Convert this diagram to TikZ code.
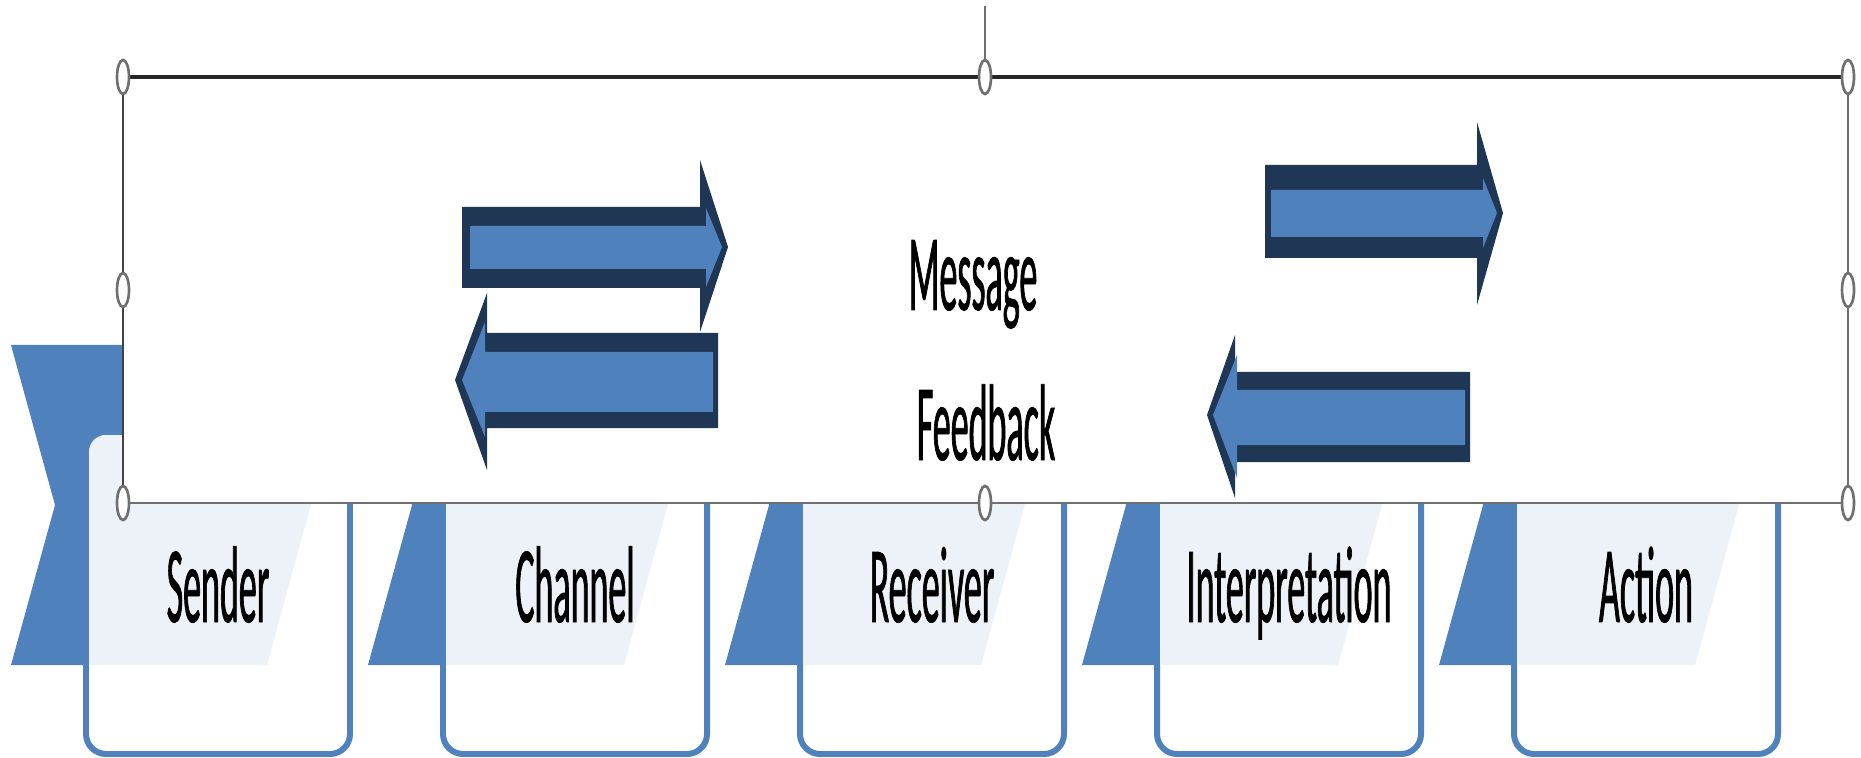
\documentclass[tikz,border=0pt]{standalone}
\usepackage{fontspec}
\newfontfamily\calib[FakeStretch=0.33, FakeBold=0.6]{Carlito}
\definecolor{chevblue}{HTML}{4F81BD}
\definecolor{bandblue}{HTML}{EDF2F9}
\definecolor{arrowdark}{HTML}{1F3654}
\definecolor{framegrey}{HTML}{6F6F6F}

\begin{document}
\begin{tikzpicture}[x=0.01cm, y=-0.01cm,
    chevron/.style={fill=chevblue},
    stepbox/.style={draw=chevblue, fill=white, line width=1.7pt,
        rounded corners=0.2cm},
    bandfill/.style={fill=bandblue},
    steptext/.style={font=\calib\fontsize{31}{31}\selectfont,
        anchor=base, inner sep=0pt},
    arrowedge/.style={fill=arrowdark},
    arrowbody/.style={fill=chevblue},
    handle/.style={draw=framegrey, fill=white, line width=0.75pt}]

    \useasboundingbox (0,0) rectangle (1861,758);

    % the five steps
    \foreach \txt [count=\i from 0] in {Sender,Channel,Receiver,Interpretation,Action}{
        \pgfmathsetmacro{\xo}{11+357*\i}
        \fill[chevron] (\xo,345) -- (\xo+300,345) -- (\xo+330,505)
            -- (\xo+300,665) -- (\xo,665) -- (\xo+44,505) -- cycle;
        \draw[stepbox] (\xo+75,432) rectangle (\xo+339,754);
        \fill[bandfill, rounded corners=0.17cm] (\xo+78,665) -- (\xo+78,435)
            -- (\xo+319,435) [sharp corners] -- (\xo+256,665) -- cycle;
        \node[steptext] (step\i) at (\xo+207,622) {\txt};
    }

    % selection frame
    \coordinate (nw) at (123,77);
    \coordinate (n) at (985,77);
    \coordinate (ne) at (1848,77);
    \coordinate (w) at (123,290);
    \coordinate (e) at (1848,290);
    \coordinate (sw) at (123,503);
    \coordinate (s) at (985,503);
    \coordinate (se) at (1848,503);
    \coordinate (rot) at (985,6);

    \fill[white] (nw) rectangle (se);
    \draw[framegrey!60!black, line width=0.45pt] (nw) -- (sw);
    \draw[framegrey, line width=0.45pt] (ne) -- (se);
    \draw[framegrey, line width=0.85pt] (sw) -- (se);
    \draw[black!85, line width=1.2pt] (nw) -- (ne);
    \draw[framegrey, line width=0.4pt] (rot) -- (n);

    % message arrows
    \fill[arrowedge] (462,207) -- (700,207) -- (700,160) -- (728,247)
        -- (700,332) -- (700,288) -- (462,288) -- cycle;
    \fill[arrowbody] (470,226) -- (706,226) -- (706,208) -- (722,247)
        -- (706,287) -- (706,269) -- (470,269) -- cycle;
    \fill[arrowedge] (1265,165) -- (1477,165) -- (1477,122) -- (1503,213)
        -- (1477,305) -- (1477,258) -- (1265,258) -- cycle;
    \fill[arrowbody] (1271,190) -- (1483,190) -- (1483,178) -- (1497,213)
        -- (1483,248) -- (1483,237) -- (1271,237) -- cycle;

    % feedback arrows
    \fill[arrowedge] (718,333) -- (487,333) -- (487,293) -- (455,380)
        -- (487,470) -- (487,428) -- (718,428) -- cycle;
    \fill[arrowbody] (713,352) -- (485,352) -- (485,322) -- (462,380)
        -- (485,437) -- (485,412) -- (713,412) -- cycle;
    \fill[arrowedge] (1470,372) -- (1235,372) -- (1235,335) -- (1207,415)
        -- (1235,498) -- (1235,462) -- (1470,462) -- cycle;
    \fill[arrowbody] (1465,390) -- (1237,390) -- (1237,355) -- (1213,415)
        -- (1237,478) -- (1237,445) -- (1465,445) -- cycle;

    \node[steptext] (msg) at (973,310) {Message};
    \node[steptext] (fb) at (986,460) {Feedback};

    % handles
    \foreach \h in {nw,n,ne,w,e,sw,s,se}
        \draw[handle] (\h) ellipse [x radius=0.06cm, y radius=0.17cm];

\end{tikzpicture}
\end{document}
